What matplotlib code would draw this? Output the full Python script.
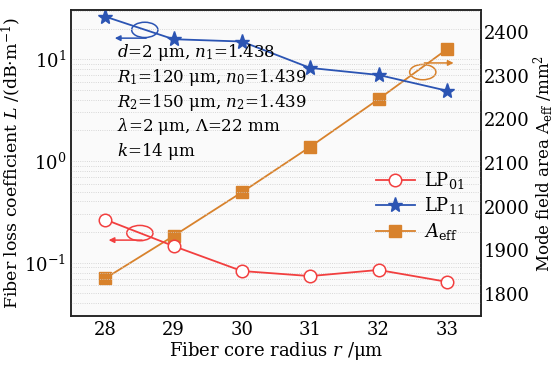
import matplotlib
matplotlib.use("Agg")
import matplotlib.pyplot as plt
from matplotlib.patches import Ellipse

plt.rcParams['font.family'] = ['DejaVu Serif']
plt.rcParams['mathtext.fontset'] = 'dejavuserif'

# --- data ---
radius = [28, 29, 30, 31, 32, 33]
loss_lp01 = [0.266, 0.146, 0.083, 0.074, 0.085, 0.065]
loss_lp11 = [26.2, 15.7, 14.9, 8.2, 7.0, 4.9]
area_eff = [1836, 1933, 2033, 2137, 2246, 2360]
x_ticks = [28, 29, 30, 31, 32, 33]
right_ticks = [1800, 1900, 2000, 2100, 2200, 2300, 2400]

red = '#f23f3f'
blue = '#2b54b3'
orange = '#d8822c'

fig = plt.figure(figsize=(5.58, 3.69), dpi=100)
ax = fig.add_axes([71 / 558, 1 - 316 / 369, 410 / 558, 306 / 369])
ax2 = ax.twinx()

l1, = ax.plot(radius, loss_lp01, color=red, lw=1.3, marker='o', ms=9,
              mfc='white', mec=red, mew=1.1, label='LP$_{01}$')
l2, = ax.plot(radius, loss_lp11, color=blue, lw=1.3, marker='*', ms=11,
              mfc=blue, mec=blue, label='LP$_{11}$')
l3, = ax2.plot(radius, area_eff, color=orange, lw=1.3, marker='s', ms=8,
               mfc=orange, mec=orange, label='$A_{\\mathrm{eff}}$')

ax.set_yscale('log')
ax.set_ylim(0.03, 30.4)
ax.set_xlim(27.5, 33.5)
ax.set_xticks(x_ticks)
ax2.set_ylim(1750, 2450)
ax2.set_yticks(right_ticks)

ax.grid(True, which='both', axis='y', color='#cccccc', ls=':', lw=0.6)
ax.set_zorder(ax2.get_zorder() + 1)
ax.patch.set_visible(False)
ax2.patch.set_visible(True)
ax2.patch.set_facecolor('#fafafa')

for a in (ax, ax2):
    a.tick_params(labelsize=13, direction='in', length=0, which='both')
    for s in a.spines.values():
        s.set_linewidth(1.1)
        s.set_color('#222222')
ax2.tick_params(pad=2)

ax.set_xlabel('Fiber core radius $r$ /μm', fontsize=13, labelpad=1)
ax.set_ylabel('Fiber loss coefficient $L$ /(dB·m$^{-1}$)', fontsize=12.5, labelpad=1)
ax2.set_ylabel('Mode field area A$_{\\mathrm{eff}}$ /mm$^2$', fontsize=12, labelpad=1)

params = ('$d$=2 μm, $n_1$=1.438\n'
          '$R_1$=120 μm, $n_0$=1.439\n'
          '$R_2$=150 μm, $n_2$=1.439\n'
          '$λ$=2 μm, $Λ$=22 mm\n'
          '$k$=14 μm')
ax.text(0.112, 0.895, params, transform=ax.transAxes, fontsize=12,
        va='top', ha='left', linespacing=1.25)

ax.legend(handles=[l1, l2, l3], loc='center right', bbox_to_anchor=(1.0, 0.36),
          frameon=False, fontsize=13, handlelength=2.2, labelspacing=0.25,
          handletextpad=0.5)

# ellipses with arrows marking which axis a curve belongs to
ax.add_patch(Ellipse((0.18, 0.935), 0.064, 0.05, transform=ax.transAxes,
                     fill=False, ec=blue, lw=1.1))
ax.annotate('', xy=(0.1, 0.908), xytext=(0.19, 0.908), xycoords='axes fraction',
            arrowprops=dict(arrowstyle='-|>', color=blue, lw=1.1, mutation_scale=8))
ax.add_patch(Ellipse((0.168, 0.271), 0.064, 0.05, transform=ax.transAxes,
                     fill=False, ec=red, lw=1.1))
ax.annotate('', xy=(0.085, 0.248), xytext=(0.18, 0.248), xycoords='axes fraction',
            arrowprops=dict(arrowstyle='-|>', color=red, lw=1.1, mutation_scale=8))
ax.add_patch(Ellipse((0.858, 0.797), 0.064, 0.05, transform=ax.transAxes,
                     fill=False, ec=orange, lw=1.1))
ax.annotate('', xy=(0.94, 0.827), xytext=(0.855, 0.827), xycoords='axes fraction',
            arrowprops=dict(arrowstyle='-|>', color=orange, lw=1.1, mutation_scale=8))

fig.savefig('out.png', dpi=100)
